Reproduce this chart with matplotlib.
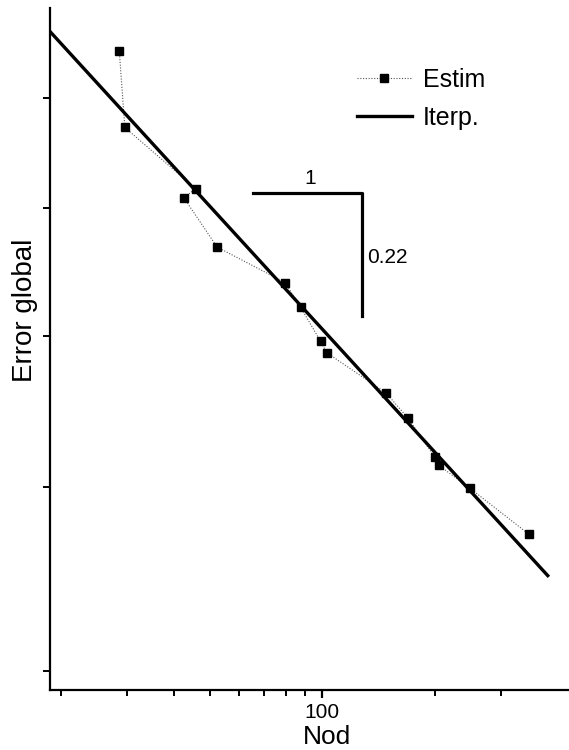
import numpy as np
import matplotlib
matplotlib.use("Agg")
import matplotlib.pyplot as plt
from matplotlib.ticker import NullFormatter, FixedLocator

plt.rcParams['font.family'] = ['Liberation Sans', 'DejaVu Sans']

# estimated global error vs number of nodes (log-log)
nod = [28.6, 29.6, 45.8, 42.6, 52.3, 79.5, 87.5, 99.0, 102.7, 148.1, 169.9, 200.3, 205.3, 248.6, 357.6]
err = [8.47, 7.72, 7.17, 7.09, 6.68, 6.40, 6.21, 5.96, 5.88, 5.60, 5.43, 5.18, 5.13, 4.99, 4.72]

# interpolated (fitted) line endpoints
iterp_nod = [18.66, 401.4]
iterp_err = [8.67, 4.49]

# slope triangle
slope = 0.22
tri_x = [65.2, 127.7]
tri_top = 7.13

x_minor = [20, 30, 40, 50, 60, 70, 80, 90, 200, 300]
y_ticks = [4, 5, 6, 7, 8]

fig = plt.figure(figsize=(5.69, 7.5), dpi=100)
ax = fig.add_axes([50/569, 1-690/750, 519/569, 682/750])

ax.plot(nod, err, ls=(0, (1, 1.5)), lw=0.8, color="#555555", marker="s",
        markersize=5.5, markerfacecolor="black", markeredgecolor="black", label="Estim")
ax.plot(iterp_nod, iterp_err, color="black", lw=2.4, label="Iterp.")

tri_bot = tri_top * (tri_x[1] / tri_x[0]) ** (-slope)
ax.plot([tri_x[0], tri_x[1], tri_x[1]], [tri_top, tri_top, tri_bot], color="black", lw=2.3)
ax.annotate("1", (np.sqrt(tri_x[0]*tri_x[1]), tri_top), xytext=(2, 4), textcoords="offset points",
            ha="center", va="bottom", fontsize=15)
ax.annotate("0.22", (tri_x[1], np.sqrt(tri_top*tri_bot)), xytext=(4, -2), textcoords="offset points",
            ha="left", va="center", fontsize=15)

ax.set_xscale("log")
ax.set_yscale("log")
ax.set_xlim(18.66, 457.6)
ax.set_ylim(3.91, 8.92)

ax.xaxis.set_major_locator(FixedLocator([100]))
ax.xaxis.set_minor_locator(FixedLocator(x_minor))
ax.xaxis.set_minor_formatter(NullFormatter())
ax.set_xticklabels(["100"])
ax.yaxis.set_major_locator(FixedLocator(y_ticks))
ax.yaxis.set_minor_locator(FixedLocator([]))
ax.yaxis.set_major_formatter(NullFormatter())
ax.yaxis.set_minor_formatter(NullFormatter())

ax.tick_params(axis="x", which="major", length=6, width=1.6, labelsize=15, pad=3)
ax.tick_params(axis="x", which="minor", length=4, width=1.4)
ax.tick_params(axis="y", which="major", length=5, width=1.4)

for s in ["top", "right"]:
    ax.spines[s].set_visible(False)
for s in ["left", "bottom"]:
    ax.spines[s].set_linewidth(1.6)

fig.text(327/569, 1-737/750, "Nod", fontsize=19, ha="center", va="center")
fig.text(25/569, 1-310/750, "Error global", rotation=90, fontsize=20, ha="center", va="center")

leg = ax.legend(loc="upper left", bbox_to_anchor=(0.5915, 0.912), frameon=False, borderpad=0,
                borderaxespad=0, fontsize=18, handlelength=2.2, handletextpad=0.45, labelspacing=0.55)

fig.savefig("out.png", dpi=100)
